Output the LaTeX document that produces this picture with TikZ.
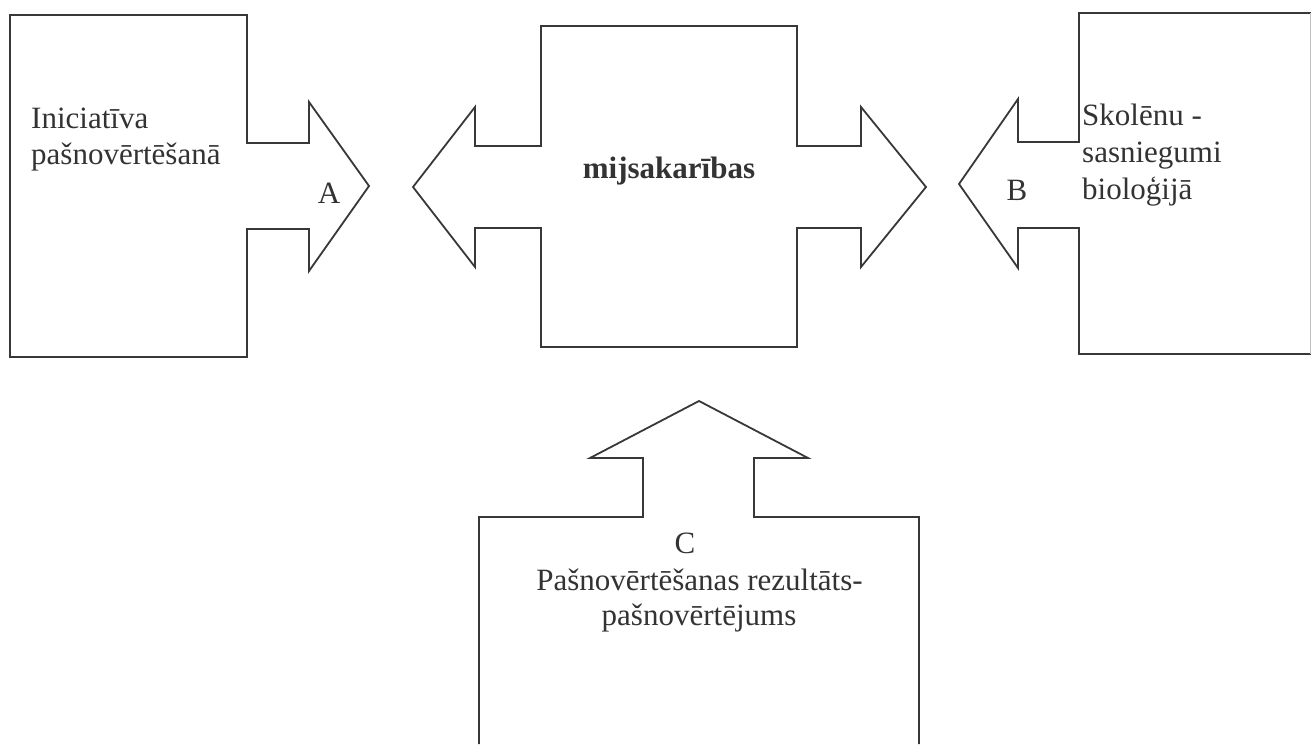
\documentclass[tikz,border=0pt]{standalone}
\usepackage{fontspec}
\setmainfont{Liberation Serif}
\begin{document}
\begin{tikzpicture}[x=1pt,y=-1pt,
  outlineshape/.style={draw=black!78, line width=1.8pt, line join=miter, fill=white},
  faintedge/.style={draw=black!25, line width=1pt},
  lbl/.style={text=black!80, inner sep=0pt, font=\fontsize{31}{36.5}\selectfont},
  blbl/.style={lbl, font=\fontsize{31}{36.5}\selectfont\bfseries}]
\useasboundingbox (0,0) rectangle (1311,744);
\fill[white] (0,0) rectangle (1311,744);
% A: left box with right-pointing arrow
\draw[outlineshape] (10,15) -- (247,15) -- (247,143) -- (309,143) -- (309,102) -- (369,186)
  -- (309,271) -- (309,229) -- (247,229) -- (247,357) -- (10,357) -- cycle;
% centre: double arrow box
\draw[outlineshape] (541,26) -- (797,26) -- (797,146) -- (861,146) -- (861,107) -- (926,187)
  -- (861,267) -- (861,228) -- (797,228) -- (797,347) -- (541,347) -- (541,228)
  -- (475,228) -- (475,267) -- (413,187) -- (475,107) -- (475,146) -- (541,146) -- cycle;
% B: right box with left-pointing arrow (cut by the right margin)
\draw[outlineshape] (1311,13) -- (1079,13) -- (1079,142) -- (1018,142) -- (1018,99) -- (959,184)
  -- (1018,268) -- (1018,228) -- (1079,228) -- (1079,354) -- (1311,354);
\draw[faintedge] (1310,13) -- (1310,354);
% C: bottom box with up arrow
\draw[outlineshape] (479,744) -- (479,517) -- (643,517) -- (643,458) -- (590,458) -- (699,401)
  -- (808,458) -- (754,458) -- (754,517) -- (919,517) -- (919,744);
% texts
\node[lbl, anchor=base west] (a1) at (31,128) {Iniciatīva};
\node[lbl, anchor=base west] (a2) at (31,164) {pašnovērtēšanā};
\node[lbl, anchor=base] (a) at (329,203) {A};
\node[blbl, anchor=base] (m) at (669,178) {mijsakarības};
\node[lbl, anchor=base] (b) at (1017,200) {B};
\node[lbl, anchor=base west] (b1) at (1082,125) {Skolēnu -};
\node[lbl, anchor=base west] (b2) at (1082,162) {sasniegumi};
\node[lbl, anchor=base west] (b3) at (1082,199) {bioloģijā};
\node[lbl, anchor=base] (c) at (685,553) {C};
\node[lbl, anchor=base] (c1) at (699.5,590) {Pašnovērtēšanas rezultāts-};
\node[lbl, anchor=base] (c2) at (699,625) {pašnovērtējums};
\end{tikzpicture}
\end{document}
